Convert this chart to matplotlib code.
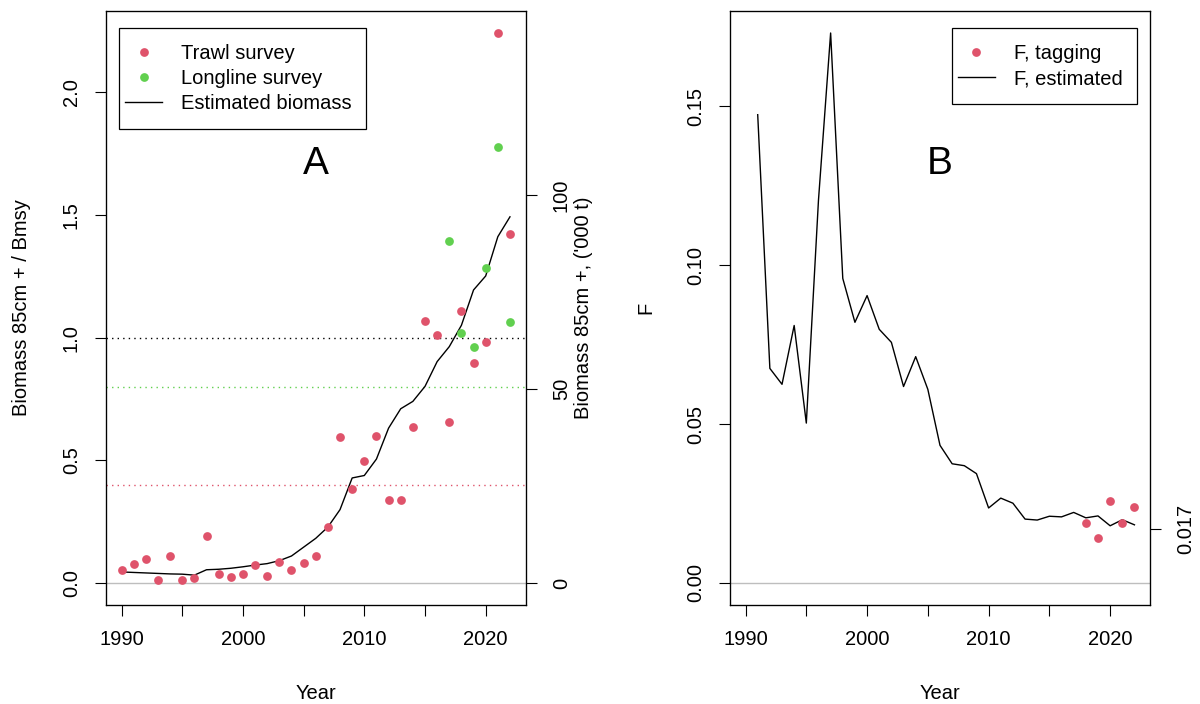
import numpy as np
import matplotlib
matplotlib.use("Agg")
import matplotlib.pyplot as plt
from matplotlib.lines import Line2D
from matplotlib.patches import Rectangle
from matplotlib.transforms import IdentityTransform

plt.rcParams["font.family"] = ["Liberation Sans", "DejaVu Sans"]

RED = "#DF536B"
GREEN = "#61D04F"
GREY = "#BEBEBE"
FS = 14.5
MS = 6.3

# ---- data ---------------------------------------------------
years = np.arange(1990, 2023)
trawl = [0.054, 0.076, 0.096, 0.012, 0.110, 0.012, 0.022, 0.191, 0.035, 0.024,
         0.038, 0.073, 0.027, 0.084, 0.051, 0.083, 0.108, 0.228, 0.596, 0.382,
         0.497, 0.600, 0.337, 0.340, 0.637, 1.069, 1.012, 0.654, 1.107, 0.896,
         0.980, 2.241, 1.424]
ll_years = np.arange(2017, 2023)
longline = [1.393, 1.020, 0.961, 1.285, 1.776, 1.065]
biomass = [0.045, 0.043, 0.041, 0.039, 0.037, 0.036, 0.032, 0.054, 0.056, 0.060,
           0.066, 0.073, 0.079, 0.091, 0.110, 0.146, 0.182, 0.228, 0.299, 0.428,
           0.438, 0.505, 0.631, 0.710, 0.740, 0.801, 0.902, 0.963, 1.050, 1.194,
           1.251, 1.411, 1.492]
bmsy_kt = 63.3          # '000 t corresponding to B/Bmsy = 1
ref_levels = [1.0, 0.8, 0.4]
ref_colors = ["black", GREEN, RED]

f_years = np.arange(1991, 2023)
f_est = [0.1473, 0.0675, 0.0625, 0.0810, 0.0503, 0.1204, 0.1730, 0.0958, 0.0820, 0.0904,
         0.0798, 0.0757, 0.0618, 0.0712, 0.0609, 0.0433, 0.0375, 0.0369, 0.0344, 0.0236,
         0.0267, 0.0251, 0.0201, 0.0198, 0.0210, 0.0208, 0.0222, 0.0205, 0.0211, 0.0180,
         0.0199, 0.0183]
tag_years = np.arange(2018, 2023)
f_tag = [0.0189, 0.0140, 0.0257, 0.0189, 0.0239]
f_ref = 0.017

xticks = np.arange(1990, 2021, 5)
xticklabels = [str(y) if y % 10 == 0 else "" for y in xticks]


def r_lim(lo, hi):
    # R-style 4% axis extension
    r = hi - lo
    return lo - 0.04 * r, hi + 0.04 * r


def style_axes(ax):
    for s in ax.spines.values():
        s.set_linewidth(0.9)
    ax.tick_params(direction="out", length=8, width=0.8, labelsize=FS, pad=10)
    ax.tick_params(axis="y", labelrotation=90)
    for t in ax.get_yticklabels():
        t.set_va("center")
    ax.set_xlim(r_lim(years.min(), years.max()))
    ax.set_xticks(xticks)
    ax.set_xticklabels(xticklabels)


def r_legend(ax, handles, labels, loc, anchor):
    # frame drawn later, taller than matplotlib's own (R-style legend box)
    return ax.legend(handles, labels, loc=loc, bbox_to_anchor=anchor, borderaxespad=0,
                     fontsize=FS, frameon=False, handlelength=1.85,
                     handletextpad=0.95, borderpad=0.3, labelspacing=0.3)


def r_legend_frame(ax, leg, extra=10, right=8):
    bb = leg.get_window_extent()
    ax.add_patch(Rectangle((bb.x0, bb.y0 - extra), bb.width + right, bb.height + 2 * extra,
                           transform=IdentityTransform(), facecolor="white",
                           edgecolor="black", lw=0.9, zorder=4.5, clip_on=False))


fig = plt.figure(figsize=(12, 7.04), dpi=100)
axA = fig.add_axes([106 / 1200, 99 / 704, 419.5 / 1200, 594 / 704])
axB = fig.add_axes([730 / 1200, 99 / 704, 420 / 1200, 594 / 704])

# ---- Panel A ------------------------------------------------
axA.axhline(0, color=GREY, lw=1)
for lev, c in zip(ref_levels, ref_colors):
    axA.axhline(lev, color=c, lw=1, ls=(0, (1, 3)))
axA.plot(years, biomass, color="black", lw=1)
axA.plot(years, trawl, "o", color=RED, ms=MS, mec="none")
axA.plot(ll_years, longline, "o", color=GREEN, ms=MS, mec="none")
ylimA = r_lim(0, max(trawl))
axA.set_ylim(ylimA)
axA.set_yticks([0, 0.5, 1.0, 1.5, 2.0])
axA.set_yticklabels(["0.0", "0.5", "1.0", "1.5", "2.0"])
style_axes(axA)
axA.set_xlabel("Year", fontsize=FS, labelpad=25)
axA.set_ylabel("Biomass 85cm + / Bmsy", fontsize=FS, labelpad=22)
axA.text(0.5, 0.7256, "A", transform=axA.transAxes, fontsize=28,
         ha="center", va="baseline")

axA2 = axA.twinx()
axA2.set_ylim(ylimA[0] * bmsy_kt, ylimA[1] * bmsy_kt)
axA2.set_yticks([0, 50, 100])
axA2.tick_params(direction="out", length=8, width=0.8, labelsize=FS, pad=11,
                 labelrotation=90)
for t in axA2.get_yticklabels():
    t.set_va("center")
axA2.set_ylabel("Biomass 85cm +, ('000 t)", fontsize=FS, labelpad=2)

hA = [Line2D([], [], ls="none", marker="o", color=RED, ms=MS, mec="none"),
      Line2D([], [], ls="none", marker="o", color=GREEN, ms=MS, mec="none"),
      Line2D([], [], color="black", lw=1)]
legA = r_legend(axA, hA, ["Trawl survey", "Longline survey", "Estimated biomass"],
                "upper left", (0.031, 0.9545))

# ---- Panel B ------------------------------------------------
axB.axhline(0, color=GREY, lw=1)
axB.plot(f_years, f_est, color="black", lw=1)
axB.plot(tag_years, f_tag, "o", color=RED, ms=MS, mec="none")
axB.set_ylim(r_lim(0, max(f_est)))
axB.set_yticks([0, 0.05, 0.10, 0.15])
axB.set_yticklabels(["0.00", "0.05", "0.10", "0.15"])
style_axes(axB)
axB.set_xlabel("Year", fontsize=FS, labelpad=25)
axB.set_ylabel("F", fontsize=FS, labelpad=22)
axB.text(0.5, 0.7256, "B", transform=axB.transAxes, fontsize=28,
         ha="center", va="baseline")

axB2 = axB.twinx()
axB2.set_ylim(axB.get_ylim())
axB2.set_yticks([f_ref])
axB2.set_yticklabels([f"{f_ref:.3f}"])
axB2.tick_params(direction="out", length=8, width=0.8, labelsize=FS, pad=11,
                 labelrotation=90)
for t in axB2.get_yticklabels():
    t.set_va("center")

hB = [Line2D([], [], ls="none", marker="o", color=RED, ms=MS, mec="none"),
      Line2D([], [], color="black", lw=1)]
legB = r_legend(axB, hB, ["F, tagging", "F, estimated"], "upper right", (0.95, 0.9545))

fig.canvas.draw()
r_legend_frame(axA, legA)
r_legend_frame(axB, legB)

fig.savefig("out.png", dpi=100)
